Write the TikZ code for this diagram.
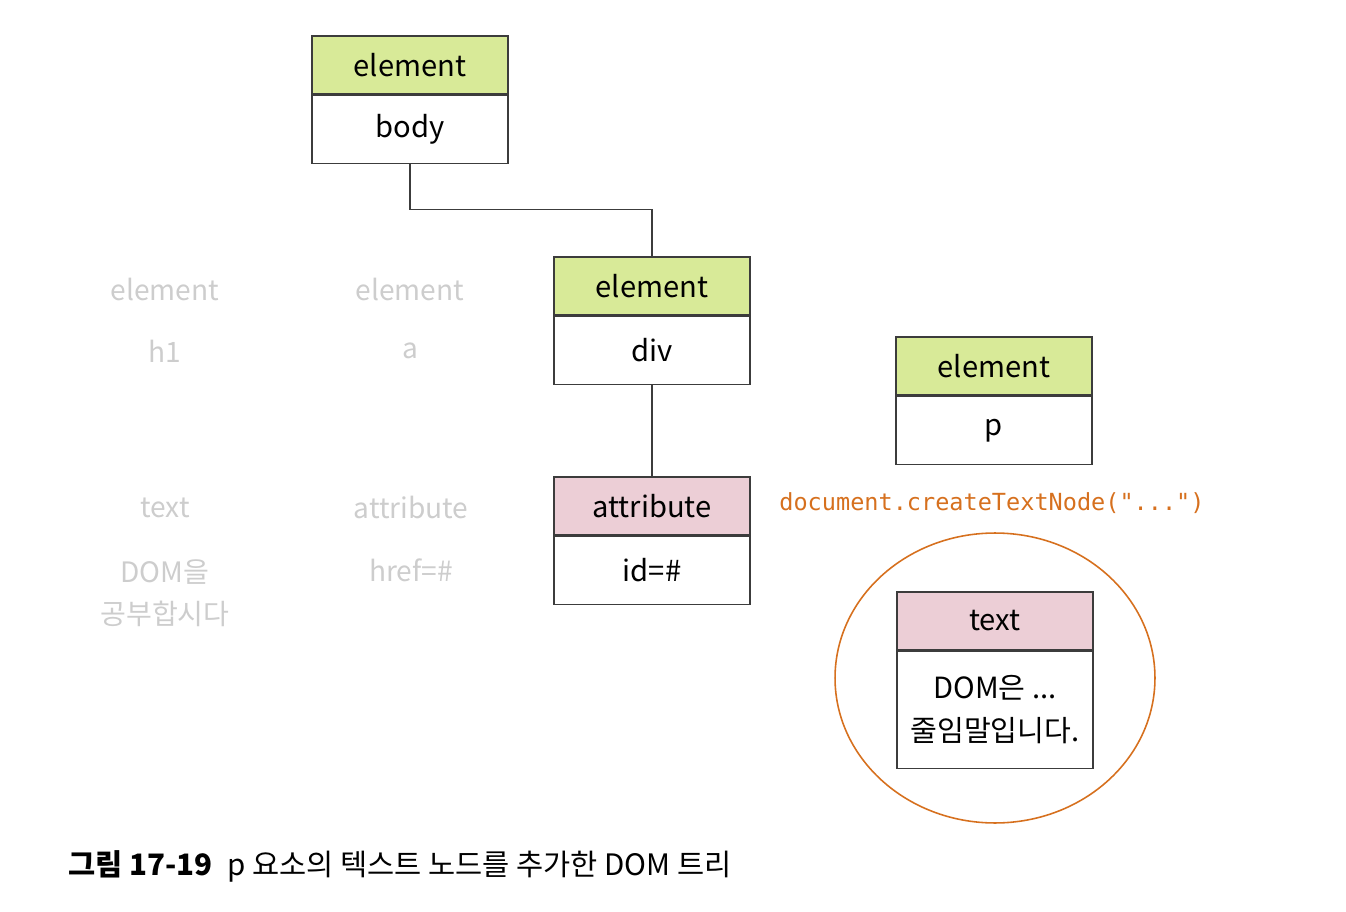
\documentclass[tikz,border=0pt]{standalone}
\usepackage{fontspec}
\setmainfont{Noto Sans CJK KR}
\newfontfamily\codefont{DejaVu Sans Mono}
\usetikzlibrary{positioning}
\definecolor{elemgreen}{RGB}{216,234,152}
\definecolor{attrpink}{RGB}{236,206,214}
\definecolor{boxline}{RGB}{60,60,60}
\definecolor{codeorange}{RGB}{214,112,30}
\definecolor{fadegray}{RGB}{205,205,205}
\tikzset{
    head/.style={draw=boxline, line width=0.7pt, minimum width=3.92cm,
        minimum height=1.16cm, inner sep=0pt, font=\fontsize{16.6}{19}\selectfont},
    elemhead/.style={head, fill=elemgreen},
    attrhead/.style={head, fill=attrpink},
    value/.style={head, minimum height=1.36cm, fill=white},
    faded/.style={text=fadegray, font=\fontsize{16}{24}\selectfont, align=center},
    link/.style={draw=boxline, line width=0.7pt}
}
\begin{document}
\begin{tikzpicture}[x=0.02cm, y=-0.02cm]
    \useasboundingbox (0,0) rectangle (1346,912);
    % faded siblings
    \node[faded] (h1type) at (165,289) {element};
    \node[faded] (h1name) at (165,351) {h1};
    \node[faded] (atype) at (410,289) {element};
    \node[faded] (aname) at (410,351) {a};
    \node[faded] (t1type) at (165,508) {text};
    \node[faded] (t1val) at (165,593) {DOM을\\공부합시다};
    \node[faded] (hreftype) at (411,507) {attribute};
    \node[faded] (hrefval) at (411,570) {href=\#};
    % tree
    \node[elemhead] (bodyhead) at (410,65) {element};
    \node[value, below=0pt of bodyhead] (body) {body};
    \node[elemhead] (divhead) at (652,286) {element};
    \node[value, below=0pt of divhead] (div) {div};
    \node[attrhead] (idhead) at (652,506) {attribute};
    \node[value, below=0pt of idhead] (id) {id=\#};
    \node[elemhead] (phead) at (994,366) {element};
    \node[value, below=0pt of phead] (p) {p};
    \draw[link] (body.south) -- ++(0,46) -| (divhead.north);
    \draw[link] (div.south) -- (idhead.north);
    % new text node
    \node[text=codeorange, font=\codefont\fontsize{13.4}{16}\selectfont] (create) at (992,503) {document.createTextNode("...")};
    \draw[codeorange, line width=0.9pt] (995,678) ellipse [x radius=3.2cm, y radius=2.9cm];
    \node[attrhead] (texthead) at (995,621) {text};
    \node[value, below=0pt of texthead, minimum height=2.34cm, align=center,
        font=\fontsize{16.6}{24.4}\selectfont] (textval) {DOM은 ...\\줄임말입니다.};
    % caption
    \node[anchor=west, inner sep=0pt, font=\fontsize{16.8}{20}\selectfont] (caption) at (68,866)
        {\textbf{그림 17-19}\hspace{0.5em}p 요소의 텍스트 노드를 추가한 DOM 트리};
\end{tikzpicture}
\end{document}
